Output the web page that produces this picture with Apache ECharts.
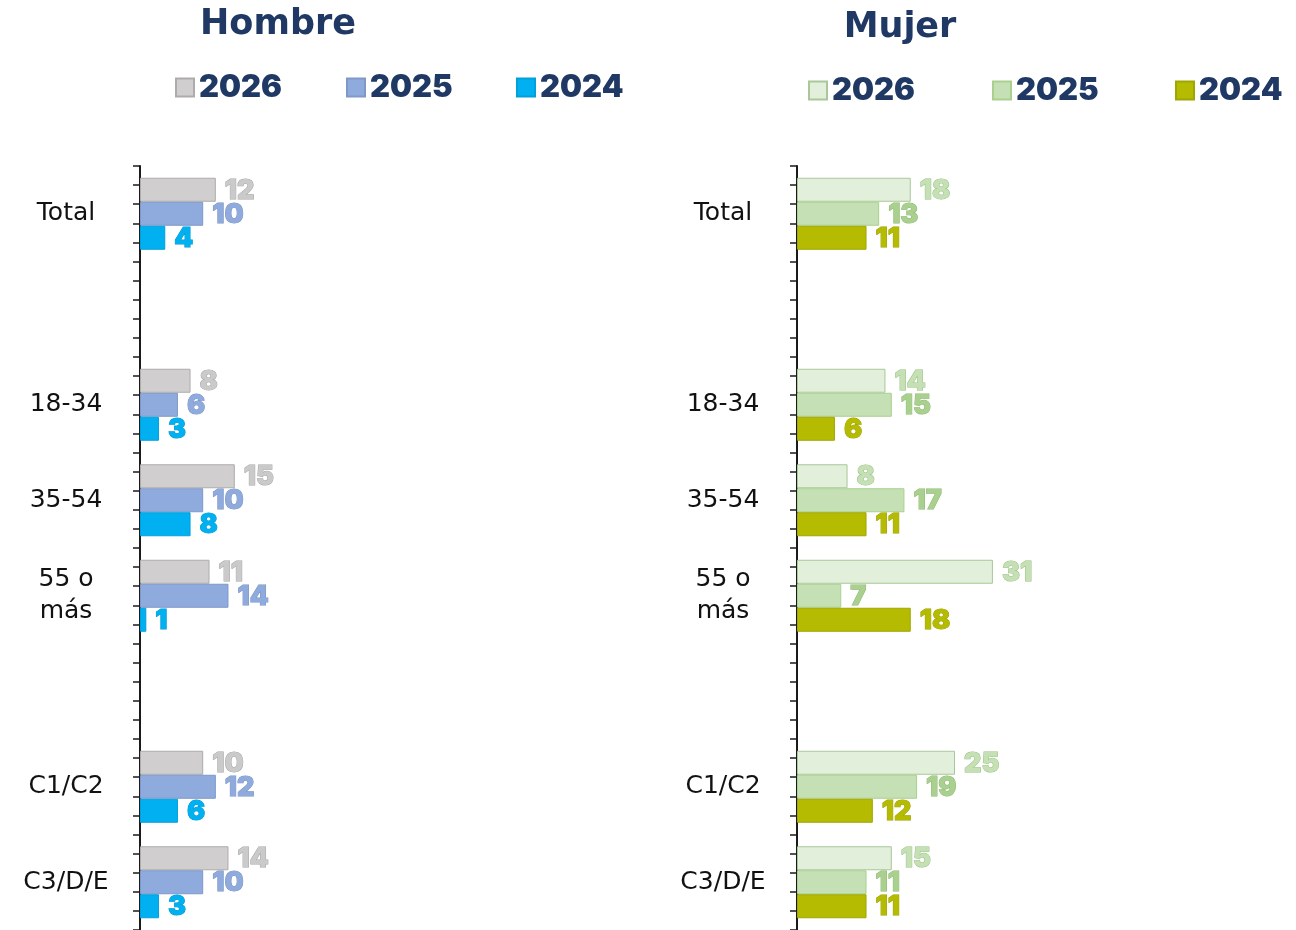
<!DOCTYPE html>
<html>
<head>
<meta charset="utf-8">
<script src="https://cdn.jsdelivr.net/npm/echarts@6/dist/echarts.min.js"></script>
<style>
  html, body { margin: 0; padding: 0; background: #fff; }
  #main { width: 1296px; height: 930px; }
</style>
</head>
<body>
<div id="main"></div>
<script>
// categorias (con huecos vacios entre grupos)
var categorias = ['Total', '', '18-34', '35-54', '55 o\nmás', '', 'C1/C2', 'C3/D/E'];
var anios = ['2026', '2025', '2024'];

// Hombre
var hombre2026 = [12, null, 8, 15, 11, null, 10, 14];
var hombre2025 = [10, null, 6, 10, 14, null, 12, 10];
var hombre2024 = [4, null, 3, 8, 1, null, 6, 3];

// Mujer
var mujer2026 = [18, null, 14, 8, 31, null, 25, 15];
var mujer2025 = [13, null, 15, 17, 7, null, 19, 11];
var mujer2024 = [11, null, 6, 11, 18, null, 12, 11];

var fuente = '"DejaVu Sans", sans-serif';
var fuenteNum = 'Inter, "DejaVu Sans", sans-serif';
var azul = '#1F3864';

var chart = echarts.init(document.getElementById('main'));

//colores: relleno, borde, texto, borde texto
var estilos = {
    H2026: ['#D0CECE', '#AFABAB', '#CACACA', '#A6A6A6'],
    H2025: ['#8FAADC', '#7F98C8', '#8FAADC', '#7A93C2'],
    H2024: ['#00B0F0', '#00A0DC', '#00B0F0', '#0098D0'],
    M2026: ['#E2EFDA', '#A9C79A', '#C5E0B4', '#98C080'],
    M2025: ['#C5E0B4', '#A9D08E', '#A9D08E', '#8DB870'],
    M2024: ['#B4BB00', '#A0A600', '#B4BB00', '#9AA000']
};

function serie(nombre, datos, eje) {
    var e = estilos[nombre];
    return {
        name: nombre,
        type: 'bar',
        xAxisIndex: eje,
        yAxisIndex: eje * 2,
        data: datos,
        barWidth: 24,
        barGap: '0%',
        itemStyle: { color: e[0], borderColor: e[1], borderWidth: 1 },
        label: {
            show: true,
            position: 'right',
            distance: 9,
            offset: [0, 1],
            fontFamily: fuenteNum,
            fontSize: 27,
            fontWeight: 900,
            color: e[2],
            textBorderColor: e[3],
            textBorderWidth: 1
        }
    };
}

function leyenda(nombre, x, y) {
    return {
        data: [nombre],
        left: x,
        top: y,
        icon: 'rect',
        itemWidth: 18,
        itemHeight: 18,
        selectedMode: false,
        formatter: function (n) { return n.slice(1); },
        textStyle: { fontFamily: fuenteNum, fontSize: 31, fontWeight: 900, color: azul }
    };
}

function ejeCategoria(grid) {
    return {
        type: 'category',
        gridIndex: grid,
        inverse: true,
        data: categorias,
        axisLine: { show: false },
        axisTick: { show: false },
        axisLabel: {
            margin: 74,
            align: 'center',
            fontFamily: fuente,
            fontSize: 25,
            lineHeight: 32,
            padding: [4, 0, 0, 0],
            color: '#111'
        }
    };
}

//eje auxiliar solo para las marcas
function ejeMarcas(grid) {
    return {
        type: 'value',
        gridIndex: grid,
        position: 'left',
        min: 0,
        max: 40,
        interval: 1,
        axisLine: { show: true, lineStyle: { color: '#1a1a1a', width: 2 } },
        axisTick: { show: true, length: 7, lineStyle: { color: '#1a1a1a', width: 1.5 } },
        axisLabel: { show: false },
        splitLine: { show: false }
    };
}

var option = {
    animation: false,
    title: [
        { text: 'Hombre', left: 273, top: 2, textAlign: 'center',
          textStyle: { fontFamily: fuente, fontSize: 35, fontWeight: 'bold', color: azul } },
        { text: 'Mujer', left: 895, top: 5, textAlign: 'center',
          textStyle: { fontFamily: fuente, fontSize: 35, fontWeight: 'bold', color: azul } }
    ],
    legend: [
        leyenda('H2026', 170, 67),
        leyenda('H2025', 341, 67),
        leyenda('H2024', 511, 67),
        leyenda('M2026', 803, 70),
        leyenda('M2025', 987, 70),
        leyenda('M2024', 1170, 70)
    ],
    grid: [
        { left: 140, top: 166, width: 316, bottom: 0 },
        { left: 797, top: 166, width: 316, bottom: 0 }
    ],
    xAxis: [
        { type: 'value', gridIndex: 0, min: 0, max: 50, show: false },
        { type: 'value', gridIndex: 1, min: 0, max: 50, show: false }
    ],
    yAxis: [
        ejeCategoria(0),
        ejeMarcas(0),
        ejeCategoria(1),
        ejeMarcas(1)
    ],
    series: [
        serie('H2026', hombre2026, 0),
        serie('H2025', hombre2025, 0),
        serie('H2024', hombre2024, 0),
        serie('M2026', mujer2026, 1),
        serie('M2025', mujer2025, 1),
        serie('M2024', mujer2024, 1)
    ]
};

chart.setOption(option);
</script>
</body>
</html>
